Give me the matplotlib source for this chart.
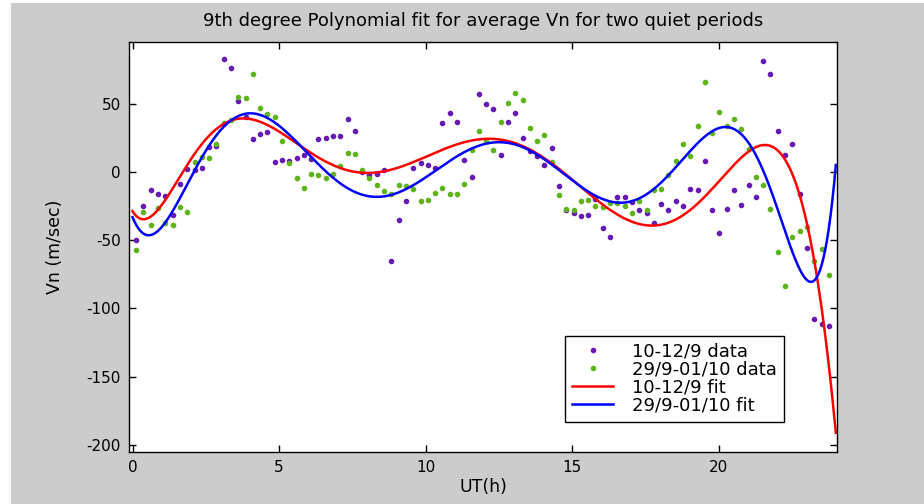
import numpy as np
import matplotlib.pyplot as plt
from matplotlib.patches import Rectangle

plt.rcParams['axes.unicode_minus'] = False
plt.rcParams['font.family'] = ['DejaVu Sans']

# sample times (UT hours), 96 averages per day
ut = np.linspace(0.125, 23.76, 96)

vn_sep = [-50.2, -24.6, -13.4, -16.1, -17.8, -31.2, -9.0, 2.5, 1.7, 3.2,
          18.0, 19.0, 82.4, 76.3, 52.2, 40.0, 24.4, 27.8, 29.0, 7.6,
          8.6, 8.0, 10.5, 12.2, 9.8, 24.4, 25.1, 26.1, 26.1, 38.5,
          29.8, 0.0, -2.4, -1.2, 1.7, -65.0, -35.3, -21.2, 3.2, 6.6,
          4.9, 2.9, 35.8, 42.9, 36.8, 8.6, -3.6, 56.8, 50.0, 46.3,
          12.2, 36.8, 42.9, 25.1, 15.0, 11.5, 4.9, 17.5, -10.4, -28.0,
          -30.0, -32.4, -31.6, -20.0, -41.4, -47.5, -18.2, -18.2, -22.0, -28.0,
          -30.0, -37.7, -23.6, -28.0, -21.2, -24.6, -12.4, -13.4, 7.8, -28.2,
          -44.6, -27.2, -13.4, -23.9, -9.7, -18.5, 81.4, 71.9, 29.8, 12.2,
          20.8, -16.1, -55.4, -108.0, -111.4, -112.6]

vn_oct = [-57.2, -29.2, -39.0, -26.3, -37.3, -39.0, -25.5, -29.2, 7.6, 10.9,
          10.5, 20.8, 35.9, 38.0, 54.8, 54.4, 71.9, 47.0, 42.7, 40.3,
          22.7, 6.6, -4.4, -11.4, -1.2, -1.9, -4.4, -1.2, 4.1, 13.9,
          12.9, 1.2, -4.1, -9.7, -14.1, -16.3, -9.7, -10.0, -12.6, -21.2,
          -20.2, -15.1, -11.4, -16.1, -16.1, -8.9, 15.8, 29.8, 22.7, 15.8,
          36.8, 50.7, 57.8, 52.4, 32.2, 22.7, 27.1, 7.3, -16.6, -26.8,
          -28.0, -21.4, -20.2, -24.9, -25.5, -23.1, -23.1, -24.9, -30.0, -21.4,
          -28.0, -13.4, -12.6, -1.9, 7.8, 20.8, 11.7, 33.4, 65.8, 28.4,
          43.9, 33.6, 38.5, 31.7, 17.1, -3.6, -9.7, -27.3, -59.0, -83.6,
          -47.5, -43.1, -40.7, -65.1, -56.3, -75.5]

labels = ['10-12/9 data', '29/9-01/10 data', '10-12/9 fit', '29/9-01/10 fit']

# 9th degree least-squares fits
fit_sep = np.polynomial.Polynomial.fit(ut, vn_sep, 9)
fit_oct = np.polynomial.Polynomial.fit(ut, vn_oct, 9)
tt = np.linspace(0, 24, 400)

fig = plt.figure(figsize=(9.24, 5.04), dpi=100, facecolor='white')
fig.patches.append(Rectangle((11 / 924, 0), 1, 1 - 3 / 504, transform=fig.transFigure,
                             facecolor='#cccccc', edgecolor='none', zorder=-10))
ax = fig.add_axes([129.3 / 924, 1 - 451.7 / 504, 708 / 924, 409.4 / 504])

ax.plot(ut, vn_sep, '.', color='#6619b3', ms=6, label=labels[0])
ax.plot(ut, vn_oct, '.', color='#5fb31a', ms=6, label=labels[1])
ax.plot(tt, fit_sep(tt), color='#ff0000', lw=1.8, label=labels[2])
ax.plot(tt, fit_oct(tt), color='#0000ff', lw=1.8, label=labels[3])

ax.set_xlim(-0.11, 24.05)
ax.set_ylim(-205, 95)
ax.set_xticks([0, 5, 10, 15, 20])
ax.set_yticks([-200, -150, -100, -50, 0, 50])
ax.tick_params(direction='in', length=5, width=1, top=True, right=True,
               labelsize=11, pad=6, colors='black')
for s in ax.spines.values():
    s.set_linewidth(1)

ax.set_title('9th degree Polynomial fit for average Vn for two quiet periods',
             fontsize=13, pad=12)
ax.set_xlabel('UT(h)', fontsize=12.5, labelpad=2)
ax.set_ylabel('Vn (m/sec)', fontsize=12.5, labelpad=16)

leg = ax.legend(loc='lower left', bbox_to_anchor=(0.615, 0.0725), borderaxespad=0,
                fontsize=13, fancybox=False, framealpha=1, edgecolor='black',
                borderpad=0.4, labelspacing=0.0, handlelength=2.3,
                handletextpad=1.0, markerscale=1.0)
leg.get_frame().set_linewidth(1)

fig.savefig('out.png', dpi=100, facecolor=fig.get_facecolor())
